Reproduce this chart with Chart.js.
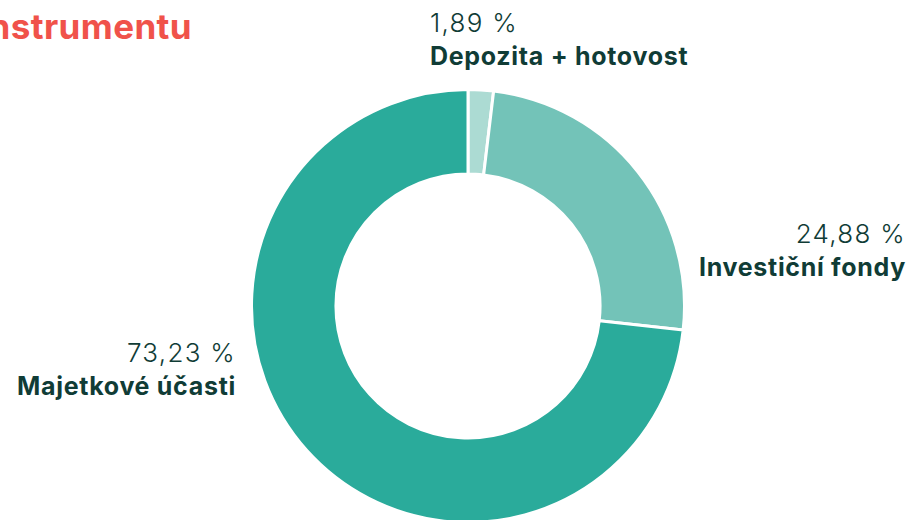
<!DOCTYPE html>
<html>
<head>
<meta charset="utf-8">
<script src="https://cdn.jsdelivr.net/npm/chart.js@4"></script>
<style>
  html, body { margin: 0; padding: 0; width: 907px; height: 520px; overflow: hidden; background: #fff; }
  body { position: relative; font-family: "Inter", "Noto Sans", sans-serif; color: #103c36; }
  #title { position: absolute; right: 715px; top: 5px; white-space: nowrap; font-size: 35px; font-weight: 700; color: #f0524a; letter-spacing: 0.4px; }
  #wrap { position: absolute; left: 250px; top: 88px; width: 436px; height: 436px; }
  .lbl { position: absolute; white-space: nowrap; }
  .lbl .pct { font-size: 26px; font-weight: 300; line-height: 33px; letter-spacing: 1.3px; }
  .lbl .name { font-size: 25px; font-weight: 700; line-height: 35px; letter-spacing: 0.7px; }
</style>
</head>
<body>
<div id="title">Struktura podle druhu instrumentu</div>
<div id="wrap"><canvas id="donut"></canvas></div>

<script>
const categories = ["Depozita + hotovost", "Investiční fondy", "Majetkové účasti"];
const shares = [1.89, 24.88, 73.23];
const sliceColors = ["#acdbd3", "#73c3b8", "#2aab9b"];

// where each label sits on the page (left or right anchored)
const labelSpots = [
    { left: 430, top: 6, align: "left" },
    { right: 1, top: 217, align: "right" },
    { right: 671, top: 336, align: "right" }
];

function fmt(v) {
    return v.toFixed(2).replace(".", ",") + " %";
}

categories.forEach((c, i) => {
    let d = document.createElement("div");
    d.className = "lbl";
    let s = labelSpots[i];
    d.style.top = s.top + "px";
    if (s.align == "left") {
        d.style.left = s.left + "px";
    } else {
        d.style.right = s.right + "px";
    }
    d.style.textAlign = s.align;
    d.innerHTML = '<div class="pct">' + fmt(shares[i]) + '</div><div class="name">' + c + '</div>';
    document.body.appendChild(d);
});

const ctx = document.getElementById("donut").getContext("2d");
new Chart(ctx, {
    type: "doughnut",
    data: {
        labels: categories,
        datasets: [{
            data: shares,
            backgroundColor: sliceColors,
            borderColor: "#ffffff",
            borderWidth: 3
        }]
    },
    options: {
        responsive: true,
        maintainAspectRatio: false,
        animation: false,
        cutout: "61%",
        plugins: {
            legend: { display: false },
            tooltip: { enabled: false }
        }
    }
});
</script>
</body>
</html>
